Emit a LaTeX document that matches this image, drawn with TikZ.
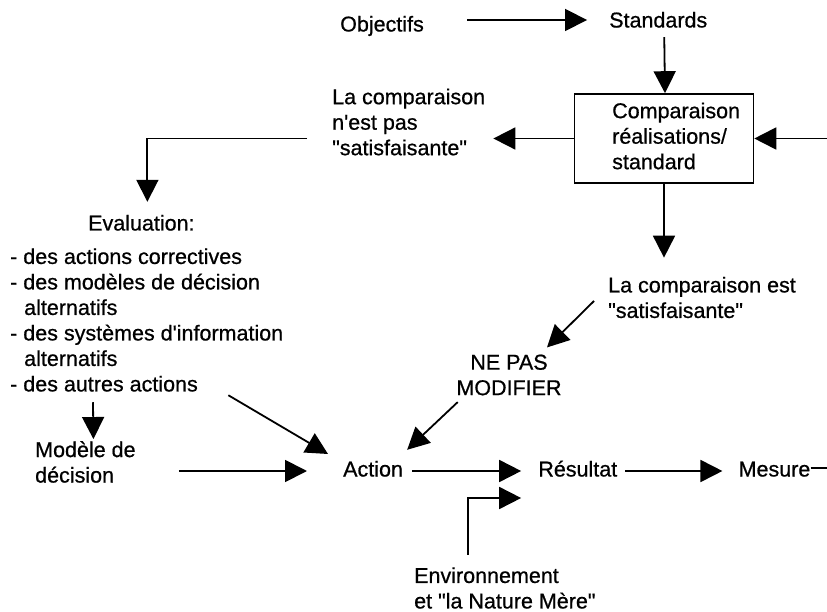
\documentclass[tikz,border=0pt]{standalone}
\usepackage{fontspec}
\newfontfamily\diagfont{Liberation Sans}[FakeBold=0.7]
\usetikzlibrary{arrows.meta,positioning,calc}

\begin{document}
\begin{tikzpicture}[x=1pt,y=-1pt,lbl/.style={inner sep=0pt,font=\diagfont\fontsize{21.5}{25.5}\selectfont,text height=15.5pt,text depth=4.5pt},multi/.style={inner sep=0pt,font=\diagfont\fontsize{21.5}{25.5}\selectfont,align=left},arr/.style={-{Triangle[length=22pt,width=22pt]},line width=1.8pt},wire/.style={line width=1.8pt}]
\useasboundingbox (0,0) rectangle (827,612);
\node[lbl,anchor=west] (obj) at (340,26) {Objectifs};
\node[lbl,right=185pt of obj,yshift=4pt] (std) {Standards};
\node[draw,line width=1.6pt,minimum width=179pt,minimum height=89pt] (cmp) at (664,138.5) {};
\node[multi,anchor=west] (cmptxt) at (612,136) {Comparaison\\réalisations/\\standard};
\node[multi,anchor=west] (nsat) at (332,122) {La comparaison\\n'est pas\\"satisfaisante"};
\node[lbl,anchor=west] (eval) at (88,225) {Evaluation:};
\node[multi,anchor=west] (list) at (10,320) {- des actions correctives\\- des modèles de décision\\\hspace*{14pt}alternatifs\\- des systèmes d'information\\\hspace*{14pt}alternatifs\\- des autres actions};
\node[multi,anchor=west] (sat) at (608,297.5) {La comparaison est\\"satisfaisante"};
\node[multi,align=center] (nepas) at (509,375) {NE PAS\\MODIFIER};
\node[multi,anchor=west] (model) at (35,462) {Modèle de\\décision};
\node[lbl,anchor=west] (action) at (343,471) {Action};
\node[lbl,right=135pt of action] (res) {Résultat};
\node[lbl,right=121pt of res] (mes) {Mesure};
\node[multi,anchor=west] (env) at (414,588) {Environnement\\et "la Nature Mère"};
\coordinate (fbT) at (827,138.5);
\coordinate (fbR) at (827,468);
\draw[arr] ([xshift=43pt,yshift=6pt]obj.east) -- ([xshift=-22pt,yshift=2pt]std.west);
\draw[arr] ([xshift=6pt,yshift=-5pt]std.south) -- ([xshift=1pt]cmp.north);
\draw[arr] (fbT) -- (cmp.east);
\draw[arr] (cmp.west) -- ($(nsat.east |- cmp.west)+(8pt,0)$);
\draw[arr] ($(nsat.west |- cmp.west)+(-25pt,0)$) -| ($(eval.north)+(6pt,13pt)$);
\draw[arr] (cmp.south) -- ($(cmp.south |- sat.north)+(0,19pt)$);
\draw[arr] ($(sat.west)+(-14pt,-3.5pt)$) -- ($(nepas.north)+(38pt,7pt)$);
\draw[arr] ($(nepas.south west)+(1.5pt,-6.5pt)$) -- ($(action.north east)+(4pt,11pt)$);
\draw[arr] ($(list.south east)+(-55pt,-3.4pt)$) -- ($(action.west)+(-15pt,17pt)$);
\draw[arr] ($(list.south west)+(83pt,-10.4pt)$) -- ($(model.north)+(8pt,2pt)$);
\draw[arr] ($(model.east)+(43pt,-9pt)$) -- ([xshift=-36pt]action.west);
\draw[arr] ([xshift=9pt]action.east) -- ([xshift=-17pt]res.west);
\draw[arr] ([xshift=8pt]res.east) -- ([xshift=-16pt]mes.west);
\draw[wire] ([yshift=3pt]mes.east) -- (fbR);
\draw[arr] ($(env.north west)+(54pt,12.4pt)$) |- ($(res.west)+(-17pt,-27pt)$);
\end{tikzpicture}
\end{document}
